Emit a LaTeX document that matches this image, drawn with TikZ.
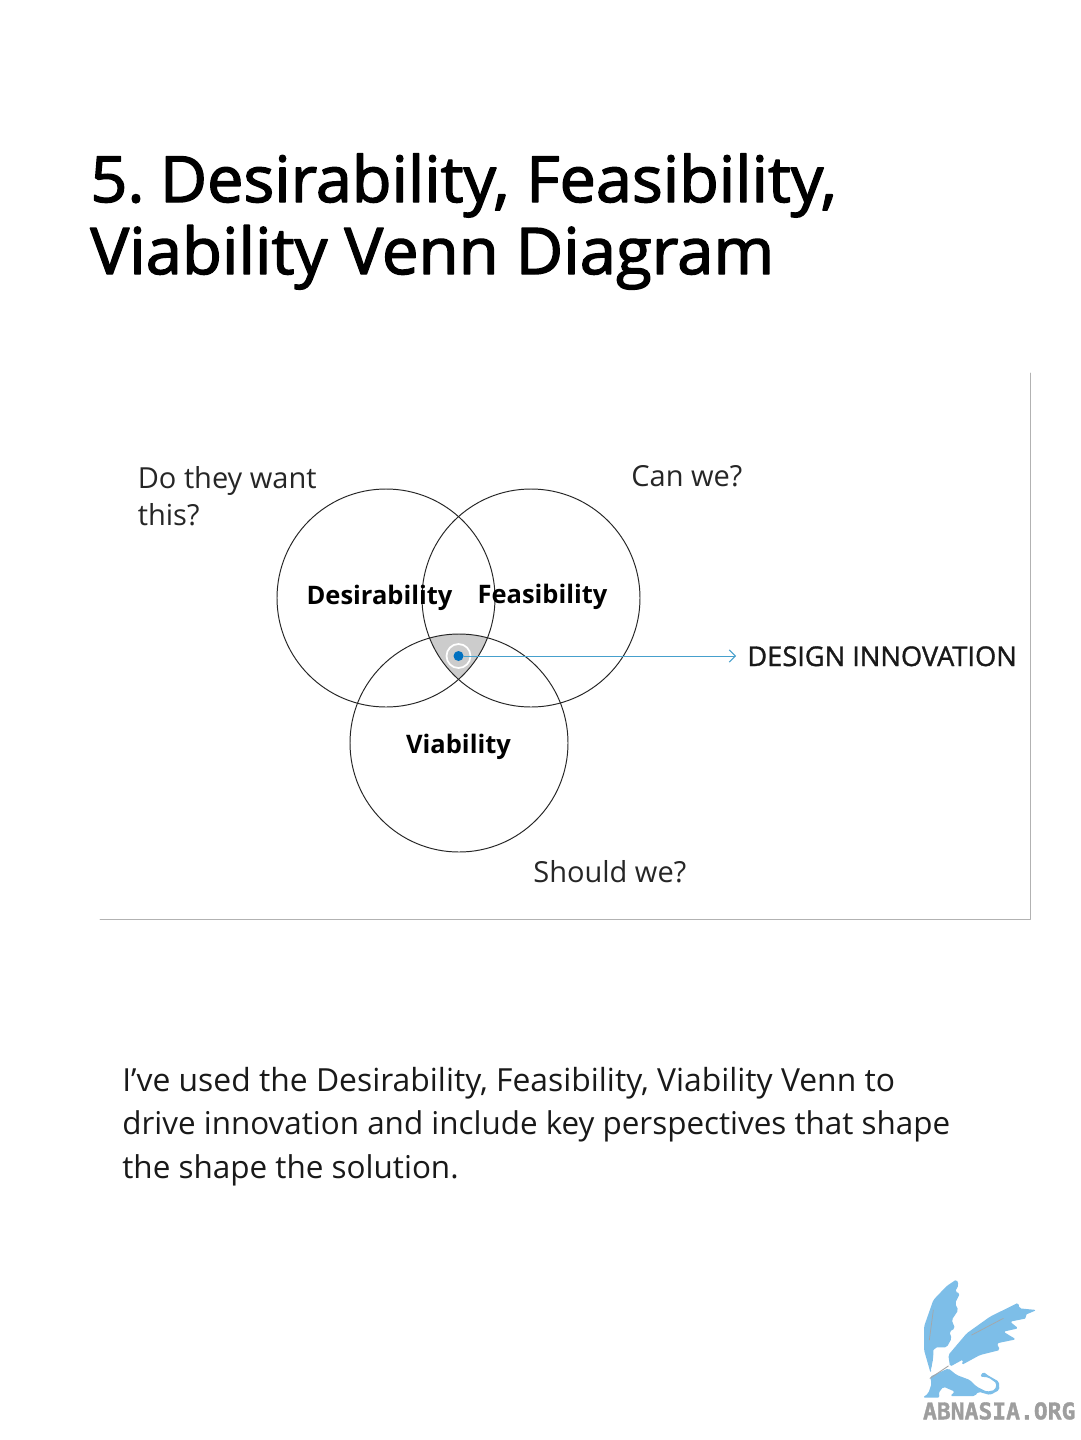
\documentclass[tikz,border=0pt]{standalone}
\usepackage{fontspec}
\setmainfont{Open Sans}
\newfontfamily\titlefont[FakeBold=2.2,FakeStretch=1.015]{Open Sans}
\newfontfamily\boxfont[FakeBold=1.2]{Open Sans}
\newfontfamily\logofont[FakeBold=1.5]{DejaVu Sans Mono}
\usetikzlibrary{arrows.meta}
\definecolor{logoblue}{RGB}{125,190,232}
\definecolor{linkblue}{RGB}{70,160,205}
\definecolor{dotblue}{RGB}{0,112,192}
\tikzset{
    titletext/.style={anchor=base west,inner sep=0pt,font=\titlefont\fontsize{#1}{40}\selectfont},
    bodytext/.style={anchor=base west,inner sep=0pt,font=\fontsize{#1}{22}\selectfont,text=black!90},
    asktext/.style={anchor=base west,inner sep=0pt,font=\fontsize{16.5}{20}\selectfont,text=black!85},
    setlabel/.style={anchor=base,inner sep=0pt,font=\bfseries\fontsize{14.5}{18}\selectfont},
    vennset/.style={draw=black!85,line width=0.55pt}
}
\begin{document}
\begin{tikzpicture}[line cap=round,line join=round,>={Straight Barb[length=3.5pt,width=7pt]},x=0.02cm,y=-0.02cm]
    \useasboundingbox (0,0) rectangle (1080,1440);
    \fill [white] (0,0) rectangle (1080,1440);
    % heading
    \node [titletext=36.3] (title1) at (90,202) {5.\hspace{-4pt} Desirability, Feasibility,};
    \node [titletext=36.6] (title2) at (90,274) {Viability Venn Diagram};
    % frame
    \draw [line width=0.5pt,color=black!30] (100,919)-- (1030,919)-- (1030,373);
    % overlap
    \begin{scope}
        \clip (386,598) circle (109);
        \clip (531,598) circle (109);
        \fill [black!20] (459,743) circle (109);
    \end{scope}
    % sets
    \draw [vennset] (386,598) circle (109);
    \draw [vennset] (531,598) circle (109);
    \draw [vennset] (459,743) circle (109);
    \node [setlabel] (desirability) at (379.5,604) {Desirability};
    \node [setlabel] (feasibility) at (542.5,603) {Feasibility};
    \node [setlabel] (viability) at (458.5,753) {Viability};
    % questions
    \node [asktext] (want1) at (137.5,488) {Do they want};
    \node [asktext] (want2) at (137.5,525) {this?};
    \node [asktext] (can) at (631,486) {Can we?};
    \node [asktext] (should) at (533,882) {Should we?};
    % marker
    \node [circle,draw=white,line width=1pt,minimum size=0.48cm,inner sep=0pt] (ring) at (458.5,656) {};
    \node [circle,fill=dotblue,minimum size=0.2cm,inner sep=0pt] (dot) at (458.5,656) {};
    \node [anchor=base west,inner sep=0pt,font=\boxfont\fontsize{15.5}{18}\selectfont,text=black!90] (innovation) at (747,666) {DESIGN INNOVATION};
    \coordinate (tip) at (736,656);
    \draw [->,line width=0.55pt,color=linkblue] (dot)-- (tip);
    % body
    \node [bodytext=18.12] (body1) at (122,1091) {I’ve used the Desirability, Feasibility, Viability Venn to};
    \node [bodytext=17.87] (body2) at (122,1134) {drive innovation and include key perspectives that shape};
    \node [bodytext=17.9] (body3) at (122,1178) {the shape the solution.};
    % logo
    \begin{scope}[shift={(900,1260)},x=0.00667cm,y=-0.00667cm,rounded corners=1pt]
        \fill [logoblue] (170,58)-- (176,75)-- (165,95)-- (180,100)-- (165,130)-- (175,150)-- (155,180)-- (165,205)-- (148,215)-- (155,235)-- (140,262)-- (105,262)-- (92,340)-- (72,270)-- (72,200)-- (100,120)-- (140,78)-- cycle;
        \fill [logoblue] (145,285)-- (200,220)-- (270,170)-- (355,128)-- (358,145)-- (410,150)-- (375,165)-- (380,175)-- (330,185)-- (355,205)-- (310,215)-- (348,238)-- (290,250)-- (300,270)-- (240,285)-- (185,315)-- (190,298)-- (150,320)-- cycle;
        \fill [logoblue] (90,350)-- (145,325)-- (170,345)-- (210,360)-- (230,380)-- (260,395)-- (285,390)-- (290,370)-- (265,352)-- (240,350)-- (250,335)-- (262,345)-- (297,365)-- (298,390)-- (270,405)-- (235,395)-- (225,408)-- (150,408)-- (165,395)-- (130,380)-- (115,400)-- (120,413)-- (68,413)-- (85,400)-- (95,370)-- cycle;
        \fill [white] (100,266)-- (130,268)-- (140,280)-- (120,285)-- (105,322)-- (92,335)-- (100,300)-- cycle;
        \draw [black!35,line width=0.5pt] (90,355)-- (145,318);
        \draw [black!35,line width=0.4pt] (88,240)-- (100,150);
        \draw [black!35,line width=0.4pt] (215,225)-- (310,175);
        \node [anchor=base west,inner sep=0pt,font=\logofont\bfseries\fontsize{13.1}{14}\selectfont,text=black!38] (logotext) at (68,478) {ABNASIA.ORG};
    \end{scope}
\end{tikzpicture}
\end{document}
